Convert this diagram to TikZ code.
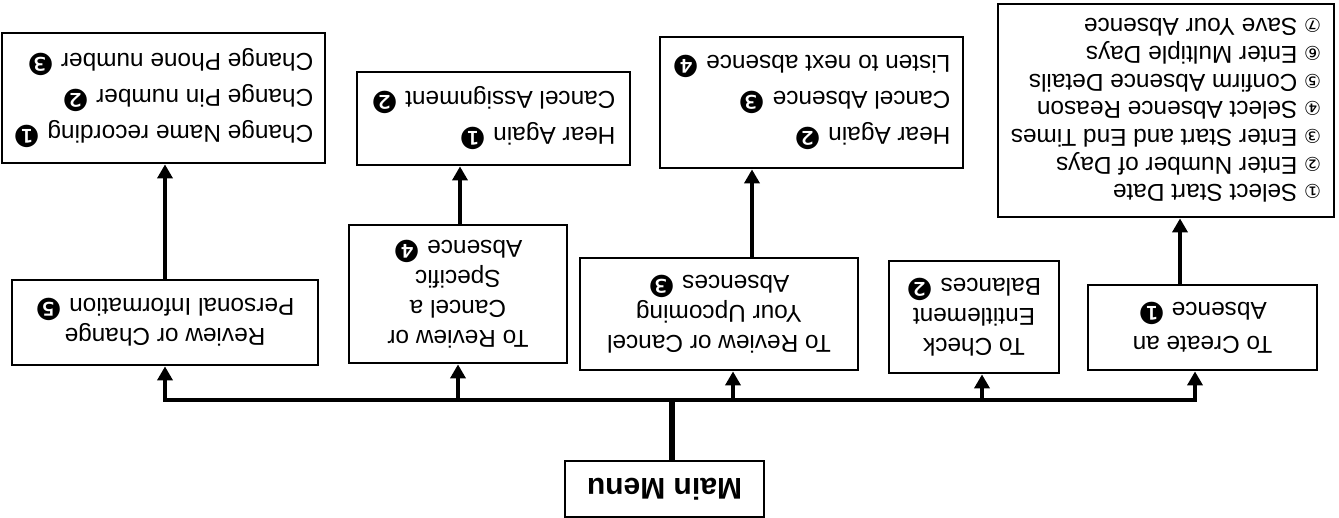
\documentclass[tikz,border=0pt]{standalone}
\usepackage{fontspec}
\setsansfont{Liberation Sans}
\newfontfamily\dingfont{DejaVu Sans}
\usetikzlibrary{arrows.meta}
\newcommand\bnum[1]{{\dingfont\fontsize{15}{15}\selectfont #1}}
\newcommand\onum[1]{{\dingfont\fontsize{9.5}{9.5}\selectfont #1}}

\begin{document}
\begin{tikzpicture}[
  x=0.5pt, y=-0.5pt,
  box/.style={rectangle, draw, line width=1.4pt, rotate=180, inner sep=0pt, font=\sffamily\fontsize{12.2}{15}\selectfont},
  optbox/.style={box, align=center},
  subbox/.style={box, align=left, font=\sffamily\fontsize{12.2}{18}\selectfont},
  arr/.style={-{Triangle[length=7pt,width=7.5pt]}, line width=2.4pt}
]
\useasboundingbox (0,0) rectangle (1339,518);
\node[box, minimum width=99.5pt, minimum height=28pt, font=\sffamily\bfseries\fontsize{15}{18}\selectfont] (main) at (664.5,489) {Main Menu};

\node[optbox, minimum width=114.5pt, minimum height=42.5pt, font=\sffamily\fontsize{12.2}{17}\selectfont] (opt1) at (1202.5,327.5) {To Create an\\Absence \bnum{❶}};
\node[optbox, minimum width=85pt, minimum height=56pt] (opt2) at (974,317) {To Check\\Entitlement\\Balances \bnum{❷}};
\node[optbox, minimum width=139pt, minimum height=56pt] (opt3) at (719,314) {To Review or Cancel\\Your Upcoming\\Absences \bnum{❸}};
\node[optbox, minimum width=109pt, minimum height=69pt] (opt4) at (458,294) {To Review or\\Cancel a\\Specific\\Absence \bnum{❹}};
\node[optbox, minimum width=153pt, minimum height=42.5pt] (opt5) at (165,322.5) {Review or Change\\Personal Information \bnum{❺}};

\node[subbox, minimum width=168pt, minimum height=106.5pt, font=\sffamily\fontsize{12.2}{13.85}\selectfont] (sub1) at (1166,110.5) {\onum{①} Select Start Date\\\onum{②} Enter Number of Days\\\onum{③} Enter Start and End Times\\\onum{④} Select Absence Reason\\\onum{⑤} Confirm Absence Details\\\onum{⑥} Enter Multiple Days\\\onum{⑦} Save Your Absence};
\node[subbox, minimum width=151.5pt, minimum height=65.5pt] (sub3) at (811.5,102.5) {Hear Again \bnum{❷}\\Cancel Absence \bnum{❸}\\Listen to next absence \bnum{❹}};
\node[subbox, minimum width=136.5pt, minimum height=46.5pt] (sub4) at (493.5,118.5) {Hear Again \bnum{❶}\\Cancel Assignment \bnum{❷}};
\node[subbox, minimum width=161.5pt, minimum height=65pt] (sub5) at (163.5,98) {Change Name recording \bnum{❶}\\Change Pin number \bnum{❷}\\Change Phone number \bnum{❸}};

\coordinate (bus) at (672,400);
\draw[line width=3pt] ([xshift=3.75pt]main.south) -- (bus);
\foreach \n/\dx in {opt1/-3.75pt, opt2/4pt, opt3/7pt, opt4/0pt, opt5/0pt}
  \draw[arr] (bus) -| ([xshift=\dx]\n.north);
\foreach \n/\dx in {1/-11.25pt, 3/16.5pt, 4/1pt, 5/0pt}
  \draw[arr] ([xshift=\dx]opt\n.south) -- ([xshift=\dx]opt\n.south |- sub\n.north);
\end{tikzpicture}
\end{document}
